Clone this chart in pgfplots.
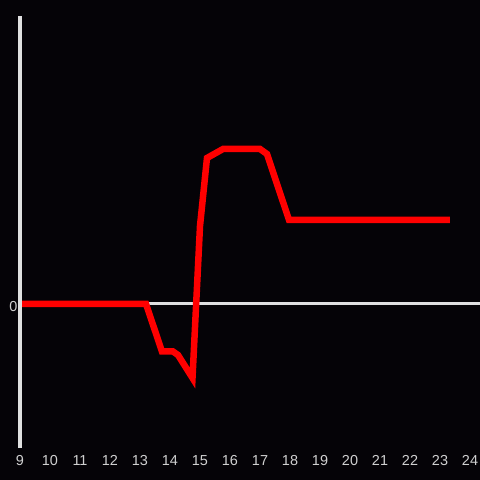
\documentclass[border=0pt]{standalone}
\usepackage{pgfplots}
\pgfplotsset{compat=1.18}
\usepackage{fontspec}
\setmainfont{Liberation Sans}
\definecolor{bg}{HTML}{050307}
\definecolor{axisc}{HTML}{E0E0E0}
\definecolor{txt}{HTML}{D0D0D0}
\begin{document}
\begin{tikzpicture}
\fill[bg] (0,0) rectangle (480bp,480bp);
\useasboundingbox (0,0) rectangle (480bp,480bp);
\begin{axis}[
  at={(20bp,32bp)}, anchor=south west,
  scale only axis, width=460bp, height=432bp,
  xmin=9, xmax=24.3333, ymin=-144, ymax=288,
  axis line style={draw=none},
  xtick={9,10,...,24}, ytick={0}, yticklabels={0},
  major tick length=0pt,
  tick label style={font=\fontsize{14.5}{16}\selectfont, text=txt},
  xticklabel style={text height=10.5bp, text depth=0pt, yshift=-3.5bp},
  yticklabel style={xshift=1bp, yshift=-2.5bp},
  /pgf/number format/assume math mode=true,
  clip=false,
]
\draw[axisc, line width=3bp] (axis cs:9,0) -- (axis cs:24.3333,0);
\addplot[red, line width=6.5bp, mark=none] coordinates {
(9,0) (13.2,0) (13.733,-47.5) (14.1,-47.5) (14.267,-51) (14.75,-74)
(15.0,78) (15.233,146) (15.767,155) (17.0,155) (17.233,150) (17.967,84) (23.333,84)
};
\draw[axisc, line width=3bp] (axis cs:9,-144) -- (axis cs:9,288);
\end{axis}
\end{tikzpicture}
\end{document}
